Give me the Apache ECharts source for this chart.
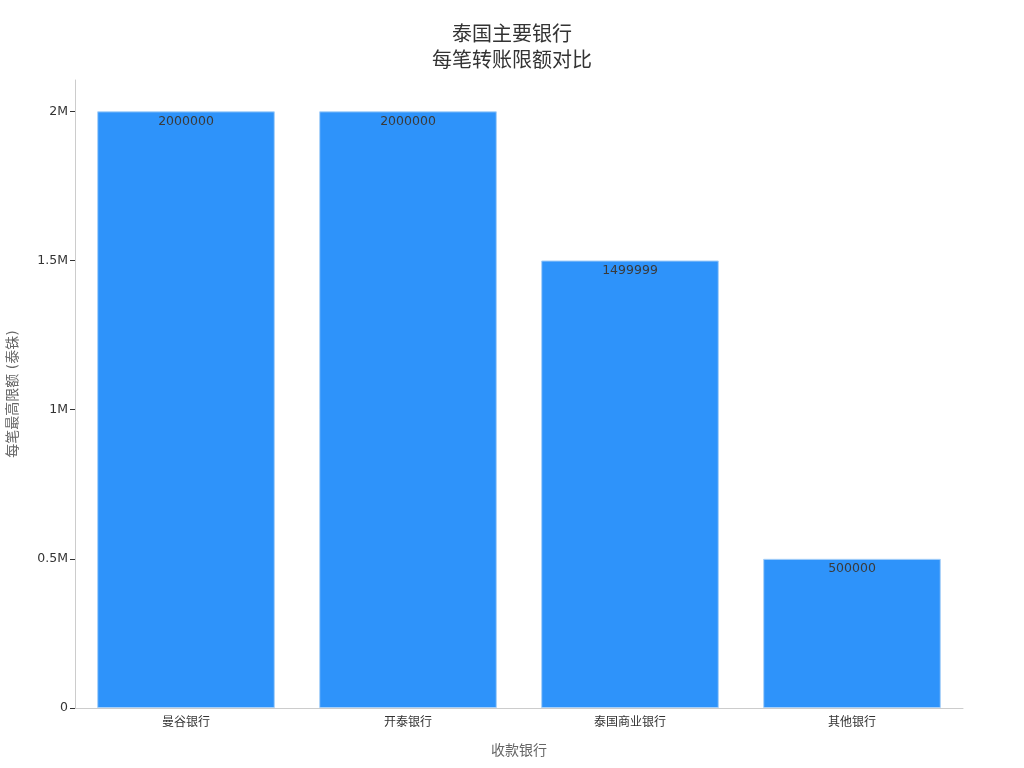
<!DOCTYPE html>
<html>
<head>
<meta charset="utf-8">
<script src="https://cdn.jsdelivr.net/npm/echarts@6/dist/echarts.min.js"></script>
<style>
  html, body { margin: 0; padding: 0; background: #fff; }
  #chart { width: 1024px; height: 768px; }
</style>
</head>
<body>
<div id="chart"></div>
<script>
const banks = ['曼谷银行', '开泰银行', '泰国商业银行', '其他银行'];
const limits = [2000000, 2000000, 1499999, 500000];
const yTicks = [0, 500000, 1000000, 1500000, 2000000];
const yTickLabels = ['0', '0.5M', '1M', '1.5M', '2M'];

const FONT = '"DejaVu Sans", "Noto Sans CJK SC", sans-serif';

const chart = echarts.init(document.getElementById('chart'), null, { renderer: 'canvas' });

const option = {
    backgroundColor: '#fff',
    textStyle: { fontFamily: FONT },
    title: {
        text: '泰国主要银行\n每笔转账限额对比',
        left: 'center',
        top: 18,
        textStyle: { color: '#333', fontSize: 20, fontWeight: 'normal', lineHeight: 26, fontFamily: FONT }
    },
    grid: { left: 75, right: 61, top: 80, bottom: 60, containLabel: false, outerBoundsMode: 'none' },
    xAxis: {
        type: 'category',
        data: banks,
        name: '收款银行',
        nameLocation: 'middle',
        nameGap: 36,
        nameTextStyle: { color: '#666', fontSize: 14 },
        axisLine: { lineStyle: { color: '#ccc' } },
        axisTick: { alignWithLabel: true, length: 5, lineStyle: { color: '#666' } },
        axisLabel: { color: '#333', fontSize: 12, margin: 9 }
    },
    yAxis: {
        type: 'value',
        min: 0,
        max: 2105000,
        interval: 500000,
        name: '每笔最高限额 (泰铢)',
        nameLocation: 'middle',
        nameGap: 55,
        nameTextStyle: { color: '#666', fontSize: 14 },
        axisLine: { show: true, lineStyle: { color: '#ccc' } },
        axisTick: { show: true, length: 5, lineStyle: { color: '#333' } },
        splitLine: { show: false },
        axisLabel: {
            color: '#333',
            fontSize: 12.5,
            margin: 7,
            showMaxLabel: false,
            formatter: v => {
                const i = yTicks.indexOf(v);
                return i >= 0 ? yTickLabels[i] : '';
            }
        }
    },
    series: [{
        type: 'bar',
        data: limits,
        barCategoryGap: '20%',
        itemStyle: { color: '#2E93FA', borderColor: '#a8d0f8', borderWidth: 1 },
        label: {
            show: true,
            position: 'insideTop',
            distance: 4,
            color: '#3a3a3a',
            fontSize: 12.5,
            fontFamily: FONT
        }
    }]
};

chart.setOption(option);
</script>
</body>
</html>
